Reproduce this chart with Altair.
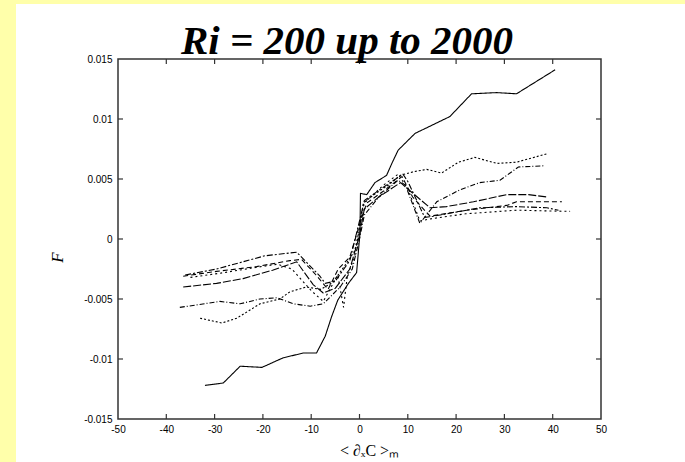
import altair as alt
import pandas as pd

# ---- data ----
series_names = ["Ri 200", "Ri 400", "Ri 600", "Ri 800", "Ri 1000", "Ri 1500", "Ri 2000"]

x1 = [-32.0, -28.2, -24.7, -20.2, -15.8, -11.6, -8.9, -7.1, -5.8, -4.5, -2.3, -0.6, 0.1, 0.2, 1.5, 3.2, 5.6, 6.7, 8.0, 11.5, 18.7, 23.2, 28.4, 32.5, 40.5]
y1 = [-0.0122, -0.0120, -0.0106, -0.0107, -0.0099, -0.0095, -0.0095, -0.0081, -0.0065, -0.0051, -0.0037, -0.0028, 0.0005, 0.0038, 0.0037, 0.0047, 0.0053, 0.0063, 0.0074, 0.0088, 0.0102, 0.0121, 0.0122, 0.0121, 0.0141]

x2 = [-33.0, -28.5, -25.4, -20.6, -16.5, -14.4, -11.0, -8.0, -5.5, -3.0, -1.0, 0.0, 0.8, 3.0, 6.0, 8.4, 11.1, 13.9, 17.0, 20.5, 23.9, 28.4, 32.5, 38.8]
y2 = [-0.0066, -0.0070, -0.0066, -0.0054, -0.0050, -0.0044, -0.0040, -0.0042, -0.0036, -0.0022, -0.0010, 0.0008, 0.0030, 0.0037, 0.0045, 0.0053, 0.0056, 0.0058, 0.0055, 0.0064, 0.0068, 0.0063, 0.0064, 0.0071]

x3 = [-37.2, -28.9, -24.7, -20.6, -17.1, -13.7, -10.2, -7.5, -4.0, -1.5, 0.0, 1.0, 4.0, 8.0, 9.5, 12.5, 16.0, 20.8, 24.9, 29.1, 32.9, 38.1]
y3 = [-0.0057, -0.0052, -0.0054, -0.0050, -0.0049, -0.0054, -0.0056, -0.0054, -0.0040, -0.0025, 0.0000, 0.0020, 0.0035, 0.0049, 0.0045, 0.0013, 0.0031, 0.0041, 0.0047, 0.0049, 0.0060, 0.0061]

x4 = [-36.5, -29.6, -24.1, -18.0, -13.0, -9.6, -7.5, -5.0, -2.0, 0.0, 1.0, 4.0, 8.5, 10.5, 14.6, 18.0, 23.6, 30.5, 35.0, 38.8]
y4 = [-0.0040, -0.0037, -0.0033, -0.0026, -0.0019, -0.0038, -0.0045, -0.0041, -0.0025, 0.0003, 0.0025, 0.0035, 0.0047, 0.0040, 0.0026, 0.0027, 0.0031, 0.0037, 0.0037, 0.0035]

x5 = [-36.5, -29.6, -21.3, -14.4, -12.0, -9.0, -6.5, -4.4, -2.0, 0.0, 1.5, 5.0, 8.8, 11.0, 14.6, 22.2, 30.5, 32.5, 37.4, 41.9]
y5 = [-0.0031, -0.0027, -0.0023, -0.0018, -0.0017, -0.0030, -0.0042, -0.0025, -0.0015, 0.0012, 0.0030, 0.0040, 0.0052, 0.0035, 0.0019, 0.0024, 0.0028, 0.0031, 0.0031, 0.0031]

x6 = [-36.1, -29.6, -19.6, -13.0, -11.3, -8.2, -7.1, -5.0, -2.0, 0.0, 1.0, 4.5, 9.0, 10.0, 13.5, 15.3, 24.9, 32.5, 38.8, 41.2]
y6 = [-0.0030, -0.0025, -0.0014, -0.0011, -0.0018, -0.0031, -0.0037, -0.0035, -0.0018, 0.0015, 0.0032, 0.0042, 0.0054, 0.0048, 0.0018, 0.0019, 0.0026, 0.0027, 0.0026, 0.0024]

x7 = [-35.0, -28.0, -22.0, -17.0, -14.0, -10.0, -7.5, -4.5, -3.3, -2.5, -1.0, 0.0, 1.0, 5.0, 8.0, 10.0, 12.5, 15.0, 22.0, 32.5, 43.6]
y7 = [-0.0032, -0.0028, -0.0024, -0.0021, -0.0025, -0.0043, -0.0052, -0.0030, -0.0057, -0.0030, -0.0015, 0.0010, 0.0030, 0.0045, 0.0054, 0.0042, 0.0015, 0.0017, 0.0021, 0.0024, 0.0023]

x_ticks = [-50, -40, -30, -20, -10, 0, 10, 20, 30, 40, 50]
y_ticks = [-0.015, -0.01, -0.005, 0, 0.005, 0.01, 0.015]
inner_x_ticks = [-40, -30, -20, -10, 0, 10, 20, 30, 40]
inner_y_ticks = [-0.01, -0.005, 0, 0.005, 0.01]

title_text = "Ri = 200 up to 2000"
x_title = "< \u2202\u2093C >\u2098"
y_title = "F"

dashes = [[1, 0], [2, 2], [5, 2, 1, 2], [8, 2], [5, 3], [6, 2, 2, 2], [2, 3]]

# ---- build table ----
all_x = [x1, x2, x3, x4, x5, x6, x7]
all_y = [y1, y2, y3, y4, y5, y6, y7]
rows = []
for name, xs, ys in zip(series_names, all_x, all_y):
    for j, (a, b) in enumerate(zip(xs, ys)):
        rows.append({"series": name, "x": a, "y": b, "o": j})
df = pd.DataFrame(rows)

W, H = 483, 360
PL, PT, PR, PB = 118, 59, 84, 43

xscale = alt.Scale(domain=[-50, 50], nice=False, zero=False)
yscale = alt.Scale(domain=[-0.015, 0.015], nice=False, zero=False)

label_font = "Liberation Sans"

lines = alt.Chart(df).mark_line(color="black", strokeWidth=1.1).encode(
    x=alt.X("x:Q", scale=xscale, axis=alt.Axis(
        values=x_ticks, labelExpr="toString(datum.value)", ticks=False, domain=False, grid=False,
        labelFont=label_font, labelFontSize=10, labelColor="black", labelPadding=5,
        labelFlush=False, labelOverlap=False,
        title=x_title, titleFont="Liberation Serif", titleFontSize=16, titleFontWeight="normal",
        titleColor="black", titleX=251, titleY=31, titleBaseline="middle", titleAlign="center")),
    y=alt.Y("y:Q", scale=yscale, axis=alt.Axis(
        values=y_ticks, labelExpr="toString(datum.value)", ticks=False, domain=False, grid=False,
        labelFont=label_font, labelFontSize=10, labelColor="black", labelPadding=6,
        labelOverlap=False,
        title=y_title, titleFont="Liberation Serif", titleFontSize=17, titleFontWeight="normal",
        titleFontStyle="italic", titleColor="black", titleAngle=270, titleX=-61, titleY=198,
        titleBaseline="middle", titleAlign="center")),
    strokeDash=alt.StrokeDash("series:N", scale=alt.Scale(domain=series_names, range=dashes), legend=None),
    detail="series:N",
    order="o:Q",
)

xt = pd.DataFrame({"x": inner_x_ticks})
yt = pd.DataFrame({"y": inner_y_ticks})
tick_style = dict(color="#333333", strokeWidth=1.2)

xt_bottom = alt.Chart(xt).mark_rule(**tick_style).encode(x=alt.X("x:Q", scale=xscale), y=alt.value(H), y2=alt.value(H - 5))
xt_top = alt.Chart(xt).mark_rule(**tick_style).encode(x=alt.X("x:Q", scale=xscale), y=alt.value(0), y2=alt.value(5))
yt_left = alt.Chart(yt).mark_rule(**tick_style).encode(y=alt.Y("y:Q", scale=yscale), x=alt.value(0), x2=alt.value(5))
yt_right = alt.Chart(yt).mark_rule(**tick_style).encode(y=alt.Y("y:Q", scale=yscale), x=alt.value(W), x2=alt.value(W - 5))

dummy = pd.DataFrame({"k": [0]})
yellow = "#FFFFAA"
left_strip = alt.Chart(dummy).mark_rect(color=yellow).encode(
    x=alt.value(-PL), x2=alt.value(16 - PL), y=alt.value(-PT), y2=alt.value(H + PB))
top_strip = alt.Chart(dummy).mark_rect(color=yellow).encode(
    x=alt.value(-PL), x2=alt.value(W + PR), y=alt.value(-PT), y2=alt.value(4 - PT))

title = alt.Chart(pd.DataFrame({"t": [title_text]})).mark_text(
    font="Liberation Serif", fontSize=41, fontStyle="italic", fontWeight="bold",
    align="center", baseline="alphabetic", color="black").encode(
    x=alt.value(347 - PL), y=alt.value(54 - PT), text="t:N")

chart = alt.layer(left_strip, top_strip, lines, xt_bottom, xt_top, yt_left, yt_right, title).properties(
    width=W, height=H,
    autosize=alt.AutoSizeParams(type="none"),
    padding={"left": PL, "top": PT, "right": PR, "bottom": PB},
    background="white",
).configure_view(stroke="#333333", strokeWidth=1.5)

chart.save("out.html", embed_options={"renderer": "svg", "actions": False})
